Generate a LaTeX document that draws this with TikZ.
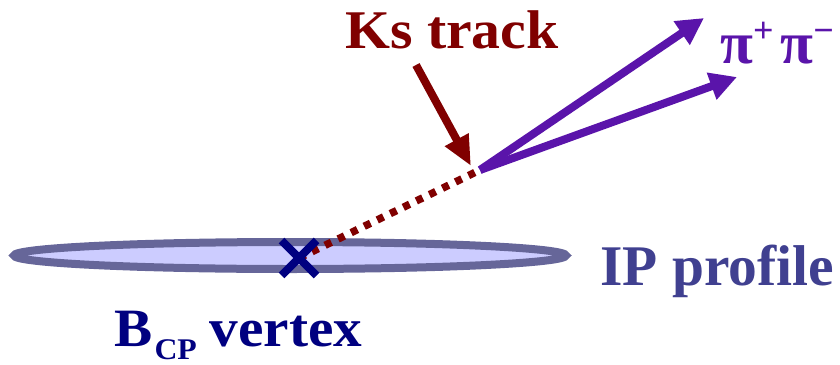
\documentclass[tikz,border=0pt]{standalone}
\usepackage{fontspec}
\setmainfont{Liberation Serif}
\usetikzlibrary{arrows.meta,shapes.misc,shapes.geometric}
\definecolor{ksred}{RGB}{128,0,0}
\definecolor{pipurple}{RGB}{90,20,170}
\definecolor{ipfill}{RGB}{204,204,255}
\definecolor{ipedge}{RGB}{102,102,153}
\definecolor{iptext}{RGB}{64,64,144}
\definecolor{bnavy}{RGB}{0,0,128}
\begin{document}
\begin{tikzpicture}[x=1pt,y=-1pt,
  lbl/.style={inner sep=0pt,font=\bfseries},
  piarrow/.style={draw=pipurple,line width=8pt,-{Triangle[length=27pt,width=27pt]}},
  ksarrow/.style={draw=ksred,line width=8pt,-{Triangle[length=30pt,width=25pt]}},
  dotline/.style={draw=ksred,line width=7.5pt,dash pattern=on 7pt off 7.5pt}]
\useasboundingbox (0,0) rectangle (840,364);
\node[ellipse,draw=ipedge,fill=ipfill,line width=8pt,minimum width=552pt,minimum height=27pt,inner sep=0pt] (ip) at (290,255.5) {};
\coordinate (ks) at (480,170);
\coordinate (bc) at (299,258);
\draw[dotline] (bc) -- (ks);
\node[cross out,draw=bnavy,line width=8pt,minimum width=27pt,minimum height=27pt,inner sep=0pt] (bcp) at (bc) {};
\coordinate (pa) at (704,18);
\coordinate (pb) at (737,77);
\draw[piarrow] (ks) -- (pa);
\draw[piarrow] (ks) -- (pb);
\node[lbl,anchor=base west,text=ksred,font=\bfseries\fontsize{54.5}{60}\selectfont,xscale=1.06] (kslbl) at (345,48) {Ks track};
\coordinate (kstip) at (471,166);
\draw[ksarrow] (416,65) -- (kstip);
\node[lbl,anchor=base west,text=pipurple,font=\bfseries\fontsize{60}{64}\selectfont] (pilbl) at (720,63) {π\raisebox{21pt}{\fontsize{36}{40}\selectfont +}\hspace{7pt}π\raisebox{21pt}{\fontsize{36}{40}\selectfont −}};
\node[lbl,anchor=base west,text=iptext,font=\bfseries\fontsize{57.5}{60}\selectfont] (iplbl) at (600,285) {IP profile};
\node[lbl,anchor=base west,text=bnavy,font=\bfseries\fontsize{54}{58}\selectfont,xscale=1.06] (blbl) at (114,346) {B\hspace{2pt}\raisebox{-13pt}{\fontsize{30}{32}\selectfont CP}\hspace{12pt}vertex};
\end{tikzpicture}
\end{document}
